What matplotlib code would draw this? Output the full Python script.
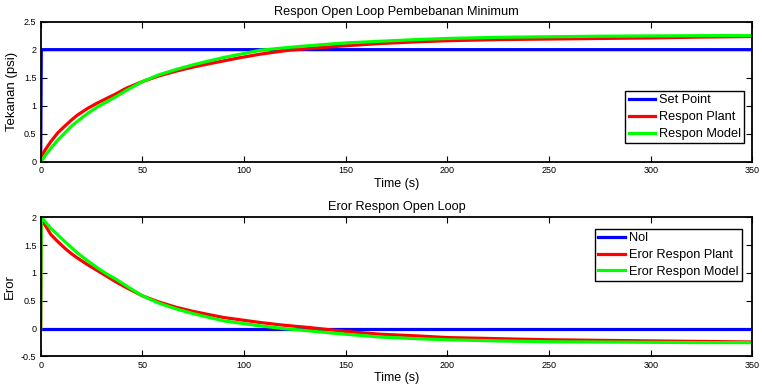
import matplotlib
matplotlib.use("Agg")
import matplotlib.pyplot as plt

plt.rcParams['font.family'] = ['Liberation Sans', 'DejaVu Sans']

# ---- data ----
t_sp = [0, 0.3, 350]
setpoint = [0, 2, 2]

t_resp = [0, 0.5, 2, 5, 8.5, 12, 15, 18, 23, 28, 33, 37, 42, 50, 58, 67, 75, 83, 90, 97,
          108, 122, 135, 150, 167, 185, 200, 225, 250, 275, 300, 325, 350]
plant = [0.05, 0.10, 0.20, 0.36, 0.52, 0.64, 0.74, 0.83, 0.95, 1.05, 1.14, 1.21, 1.31, 1.43,
         1.53, 1.62, 1.69, 1.75, 1.80, 1.85, 1.92, 1.99, 2.03, 2.07, 2.11, 2.14, 2.16, 2.18,
         2.19, 2.20, 2.21, 2.225, 2.235]
model = [0.0, 0.02, 0.10, 0.24, 0.39, 0.52, 0.63, 0.72, 0.86, 0.98, 1.08, 1.16, 1.27, 1.43,
         1.55, 1.65, 1.73, 1.80, 1.86, 1.91, 1.99, 2.04, 2.08, 2.12, 2.15, 2.18, 2.20, 2.22,
         2.23, 2.24, 2.245, 2.25, 2.25]

t_nol = [0, 350]
nol = [0, 0]

t_err = [0, 0.3, 2, 5, 8.5, 12, 15, 18, 23, 28, 33, 37, 42, 50, 58, 67, 75, 83, 90, 100,
         108, 120, 132, 150, 167, 185, 200, 225, 250, 275, 300, 325, 350]
err_plant = [0, 2.0, 1.87, 1.69, 1.56, 1.44, 1.35, 1.27, 1.15, 1.04, 0.93, 0.84, 0.74, 0.59,
             0.48, 0.38, 0.31, 0.25, 0.20, 0.15, 0.11, 0.06, 0.02, -0.05, -0.10, -0.13, -0.16,
             -0.18, -0.20, -0.21, -0.22, -0.23, -0.24]
err_model = [0, 2.0, 1.93, 1.80, 1.68, 1.56, 1.46, 1.36, 1.22, 1.09, 0.97, 0.89, 0.77, 0.59,
             0.46, 0.35, 0.27, 0.20, 0.14, 0.09, 0.05, 0.0, -0.04, -0.10, -0.15, -0.18, -0.20,
             -0.22, -0.235, -0.24, -0.245, -0.25, -0.25]

x_ticks = [0, 50, 100, 150, 200, 250, 300, 350]
y_ticks_top = [0, 0.5, 1, 1.5, 2, 2.5]
y_ticks_bot = [-0.5, 0, 0.5, 1, 1.5, 2]

BLUE = '#0000ff'
RED = '#ff0000'
GREEN = '#00ff00'

fig = plt.figure(figsize=(7.62, 3.88), dpi=100)
ax1 = fig.add_axes([0.0534, 0.5832, 0.9339, 0.361])
ax2 = fig.add_axes([0.0534, 0.0812, 0.9339, 0.3588])


def style(ax, yticks):
    ax.set_xlim(0, 350)
    ax.set_xticks(x_ticks)
    ax.set_yticks(yticks)
    ax.set_ylim(yticks[0], yticks[-1])
    ax.set_yticklabels([('%g' % v) for v in yticks])
    ax.tick_params(direction='in', top=True, right=True, length=4, width=0.8,
                   labelsize=6.5, pad=3, colors='black')
    for s in ax.spines.values():
        s.set_linewidth(1.3)
        s.set_color('black')


def make_legend(ax, loc, anchor):
    leg = ax.legend(loc=loc, bbox_to_anchor=anchor, fontsize=9.2,
                    fancybox=False, framealpha=1, edgecolor='black', borderpad=0.25,
                    handlelength=2.1, handletextpad=0.3, labelspacing=0.38,
                    borderaxespad=0)
    leg.get_frame().set_linewidth(1.0)
    return leg


LW = 2.3
ax1.plot(t_sp, setpoint, color=BLUE, lw=LW, label='Set Point')
ax1.plot(t_resp, plant, color=RED, lw=LW, label='Respon Plant')
ax1.plot(t_resp, model, color=GREEN, lw=LW, label='Respon Model')
style(ax1, y_ticks_top)
ax1.set_title('Respon Open Loop Pembebanan Minimum', fontsize=9.2, pad=5)
ax1.set_xlabel('Time (s)', fontsize=9, labelpad=2)
ax1.set_ylabel('Tekanan (psi)', fontsize=9.5, labelpad=4)
make_legend(ax1, 'lower right', (0.989, 0.131))

ax2.plot(t_nol, nol, color=BLUE, lw=LW, label='Nol')
ax2.plot(t_err, err_plant, color=RED, lw=LW, label='Eror Respon Plant')
ax2.plot(t_err, err_model, color=GREEN, lw=LW, label='Eror Respon Model')
style(ax2, y_ticks_bot)
ax2.set_title('Eror Respon Open Loop', fontsize=9.2, pad=5)
ax2.set_xlabel('Time (s)', fontsize=9, labelpad=2)
ax2.set_ylabel('Eror', fontsize=9.5, labelpad=4)
make_legend(ax2, 'upper right', (0.985, 0.916))

fig.savefig('out.png', dpi=100)
